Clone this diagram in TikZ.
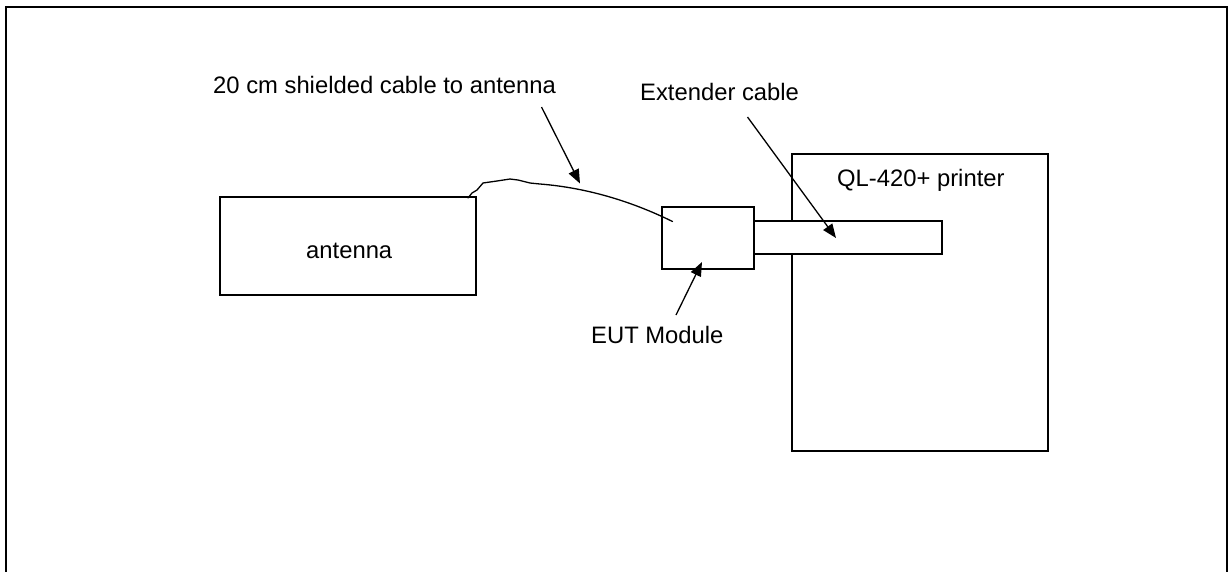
\documentclass[tikz,border=0pt]{standalone}
\usepackage{fontspec}
\setmainfont{Liberation Sans}
\usetikzlibrary{arrows.meta}
\begin{document}
\begin{tikzpicture}[x=1pt,y=-1pt,
  box/.style={draw,line width=1.5pt,fill=white,inner sep=0pt},
  lbl/.style={inner sep=0pt,anchor=base west,font=\fontsize{23.8}{28}\selectfont},
  pointer/.style={line width=1.3pt,-{Triangle[length=14pt,width=11pt]}},
  cablestyle/.style={line width=1.3pt,line cap=round,line join=round}]
\clip (0,0) rectangle (1230,571);
\fill[white] (0,0) rectangle (1230,571);
% outer frame (no bottom edge visible)
\draw[line width=1.5pt] (6,600) -- (6,7) -- (1227,7) -- (1227,600);
% boxes
\node[box,minimum width=256pt,minimum height=98pt] (ant) at (348,246) {};
\node[box,minimum width=256pt,minimum height=297pt] (prn) at (920,302.5) {};
\node[box,minimum width=92pt,minimum height=62pt] (eut) at (708,238) {};
\node[box,minimum width=188pt,minimum height=33pt] (ext) at (848,237.5) {};
% labels
\node[lbl] (antl) at (306,258) {antenna};
\node[lbl] (prnl) at (837,186.5) {QL-420+ printer};
\node[lbl] (cabl) at (213,93) {20 cm shielded cable to antenna};
\node[lbl] (extl) at (640,100) {Extender cable};
\node[lbl] (eutl) at (591,343) {EUT Module};
% cable
\coordinate (cstart) at (468,198);
\coordinate (cend) at (672.5,221.5);
\draw[cablestyle] (cstart) -- (472,193) -- (477,190) -- (483,183) -- (497,181) -- (510,179) -- (518,180) -- (530,183) -- (540,184)
  .. controls (590,188) and (635,203) .. (cend);
% pointers
\coordinate (p1s) at (541.5,107);
\coordinate (p1e) at (580,183.5);
\coordinate (p2s) at (747.5,117);
\coordinate (p2e) at (836,238);
\coordinate (p3s) at (676,315);
\coordinate (p3e) at (702,262);
\draw[pointer] (p1s) -- (p1e);
\draw[pointer] (p2s) -- (p2e);
\draw[pointer] (p3s) -- (p3e);
\end{tikzpicture}
\end{document}
